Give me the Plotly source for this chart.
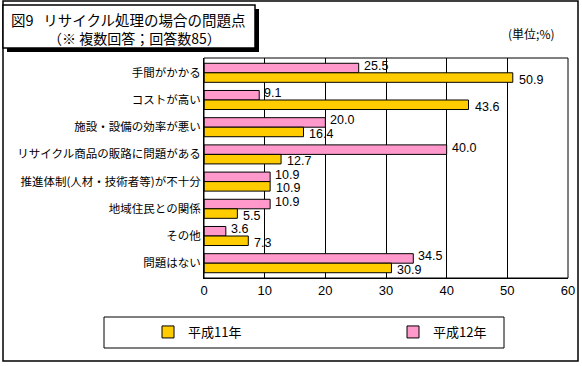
import plotly.graph_objects as go

categories = ["手間がかかる", "コストが高い", "施設・設備の効率が悪い", "リサイクル商品の販路に問題がある",
              "推進体制(人材・技術者等)が不十分", "地域住民との関係", "その他", "問題はない"]
h11 = [50.9, 43.6, 16.4, 12.7, 10.9, 5.5, 7.3, 30.9]
h12 = [25.5, 9.1, 20.0, 40.0, 10.9, 10.9, 3.6, 34.5]
series_names = ["平成11年", "平成12年"]
x_ticks = [0, 10, 20, 30, 40, 50, 60]

W, H = 582, 366
L, R, T, B = 204, 14, 58, 88
PW, PH = W - L - R, H - T - B


def px(x):
    return (x - L) / PW


def py(y):
    return (H - B - y) / PH


JP = "Noto Sans CJK JP"
YELLOW = "#FFCC00"
PINK = "#FF99CC"

fig = go.Figure()
fig.add_trace(go.Bar(
    y=categories, x=h12, name=series_names[1], orientation="h",
    marker=dict(color=PINK, line=dict(color="black", width=1)),
    legendrank=2, hoverinfo="skip",
))
fig.add_trace(go.Bar(
    y=categories, x=h11, name=series_names[0], orientation="h",
    marker=dict(color=YELLOW, line=dict(color="black", width=1)),
    legendrank=1, hoverinfo="skip",
))

shapes = [
    # outer frame
    dict(type="rect", xref="paper", yref="paper", x0=px(3), x1=px(578), y0=py(1), y1=py(361),
         line=dict(color="black", width=1.5), fillcolor="rgba(0,0,0,0)", layer="below"),
    # title box shadow
    dict(type="rect", xref="paper", yref="paper", x0=px(7), x1=px(259), y0=py(9), y1=py(52),
         line=dict(color="black", width=0), fillcolor="black"),
    # title box
    dict(type="rect", xref="paper", yref="paper", x0=px(3), x1=px(255), y0=py(5), y1=py(48),
         line=dict(color="black", width=1.5), fillcolor="white"),
    # legend box
    dict(type="rect", xref="paper", yref="paper", x0=px(104), x1=px(504), y0=py(317), y1=py(348),
         line=dict(color="black", width=1), fillcolor="rgba(0,0,0,0)"),
    # plot frame
    dict(type="rect", xref="paper", yref="paper", x0=0, x1=1, y0=0, y1=1,
         line=dict(color="black", width=1), fillcolor="rgba(0,0,0,0)"),
]

annotations = [
    dict(text="図9\u00a0\u00a0\u00a0リサイクル処理の場合の問題点", xref="paper", yref="paper", x=px(9), y=py(19),
         xanchor="left", yanchor="middle", showarrow=False, font=dict(family=JP, size=14.5, color="black")),
    dict(text="（※ 複数回答；回答数85）", xref="paper", yref="paper", x=px(134), y=py(38),
         xanchor="center", yanchor="middle", showarrow=False, font=dict(family=JP, size=14, color="black")),
    dict(text="(単位;%)", xref="paper", yref="paper", x=px(531), y=py(33),
         xanchor="center", yanchor="middle", showarrow=False, font=dict(family=JP, size=12, color="black")),
]

# value labels next to each bar end
for cat, v in zip(categories, h12):
    annotations.append(dict(text=f"{v:.1f}", x=v, y=cat, xref="x", yref="y", xanchor="left",
                            yanchor="middle", xshift=4, yshift=6.8, showarrow=False, borderpad=0,
                            font=dict(family="Arial", size=12.5, color="black")))
for cat, v in zip(categories, h11):
    annotations.append(dict(text=f"{v:.1f}", x=v, y=cat, xref="x", yref="y", xanchor="left",
                            yanchor="middle", xshift=5, yshift=-6.8, showarrow=False, borderpad=0,
                            font=dict(family="Arial", size=12.5, color="black")))

fig.update_layout(
    width=W, height=H,
    margin=dict(l=L, r=R, t=T, b=B, pad=0, autoexpand=False),
    paper_bgcolor="white", plot_bgcolor="white",
    barmode="group", bargap=0.3, bargroupgap=0,
    showlegend=True,
    legend=dict(orientation="h", x=px(148), y=py(332), xanchor="left", yanchor="middle",
                entrywidth=200, entrywidthmode="pixels",
                font=dict(family=JP, size=13, color="black"), bgcolor="rgba(0,0,0,0)",
                itemclick=False),
    shapes=shapes, annotations=annotations,
    font=dict(family=JP, color="black"),
)
fig.update_xaxes(range=[0, 60], tickvals=x_ticks, ticktext=[str(t) for t in x_ticks],
                 showgrid=True, gridcolor="black", gridwidth=1, zeroline=False, automargin=False,
                 showline=True, linecolor="black", ticks="", tickfont=dict(family="Arial", size=13, color="black"))
fig.update_yaxes(autorange="reversed", showgrid=False, showline=True, linecolor="black", automargin=False,
                 ticks="", tickfont=dict(family=JP, size=11.5, color="black"))

fig.write_html("out.html", config={"displayModeBar": False},
               post_script="document.body.style.margin='0';document.body.style.overflow='hidden';")
